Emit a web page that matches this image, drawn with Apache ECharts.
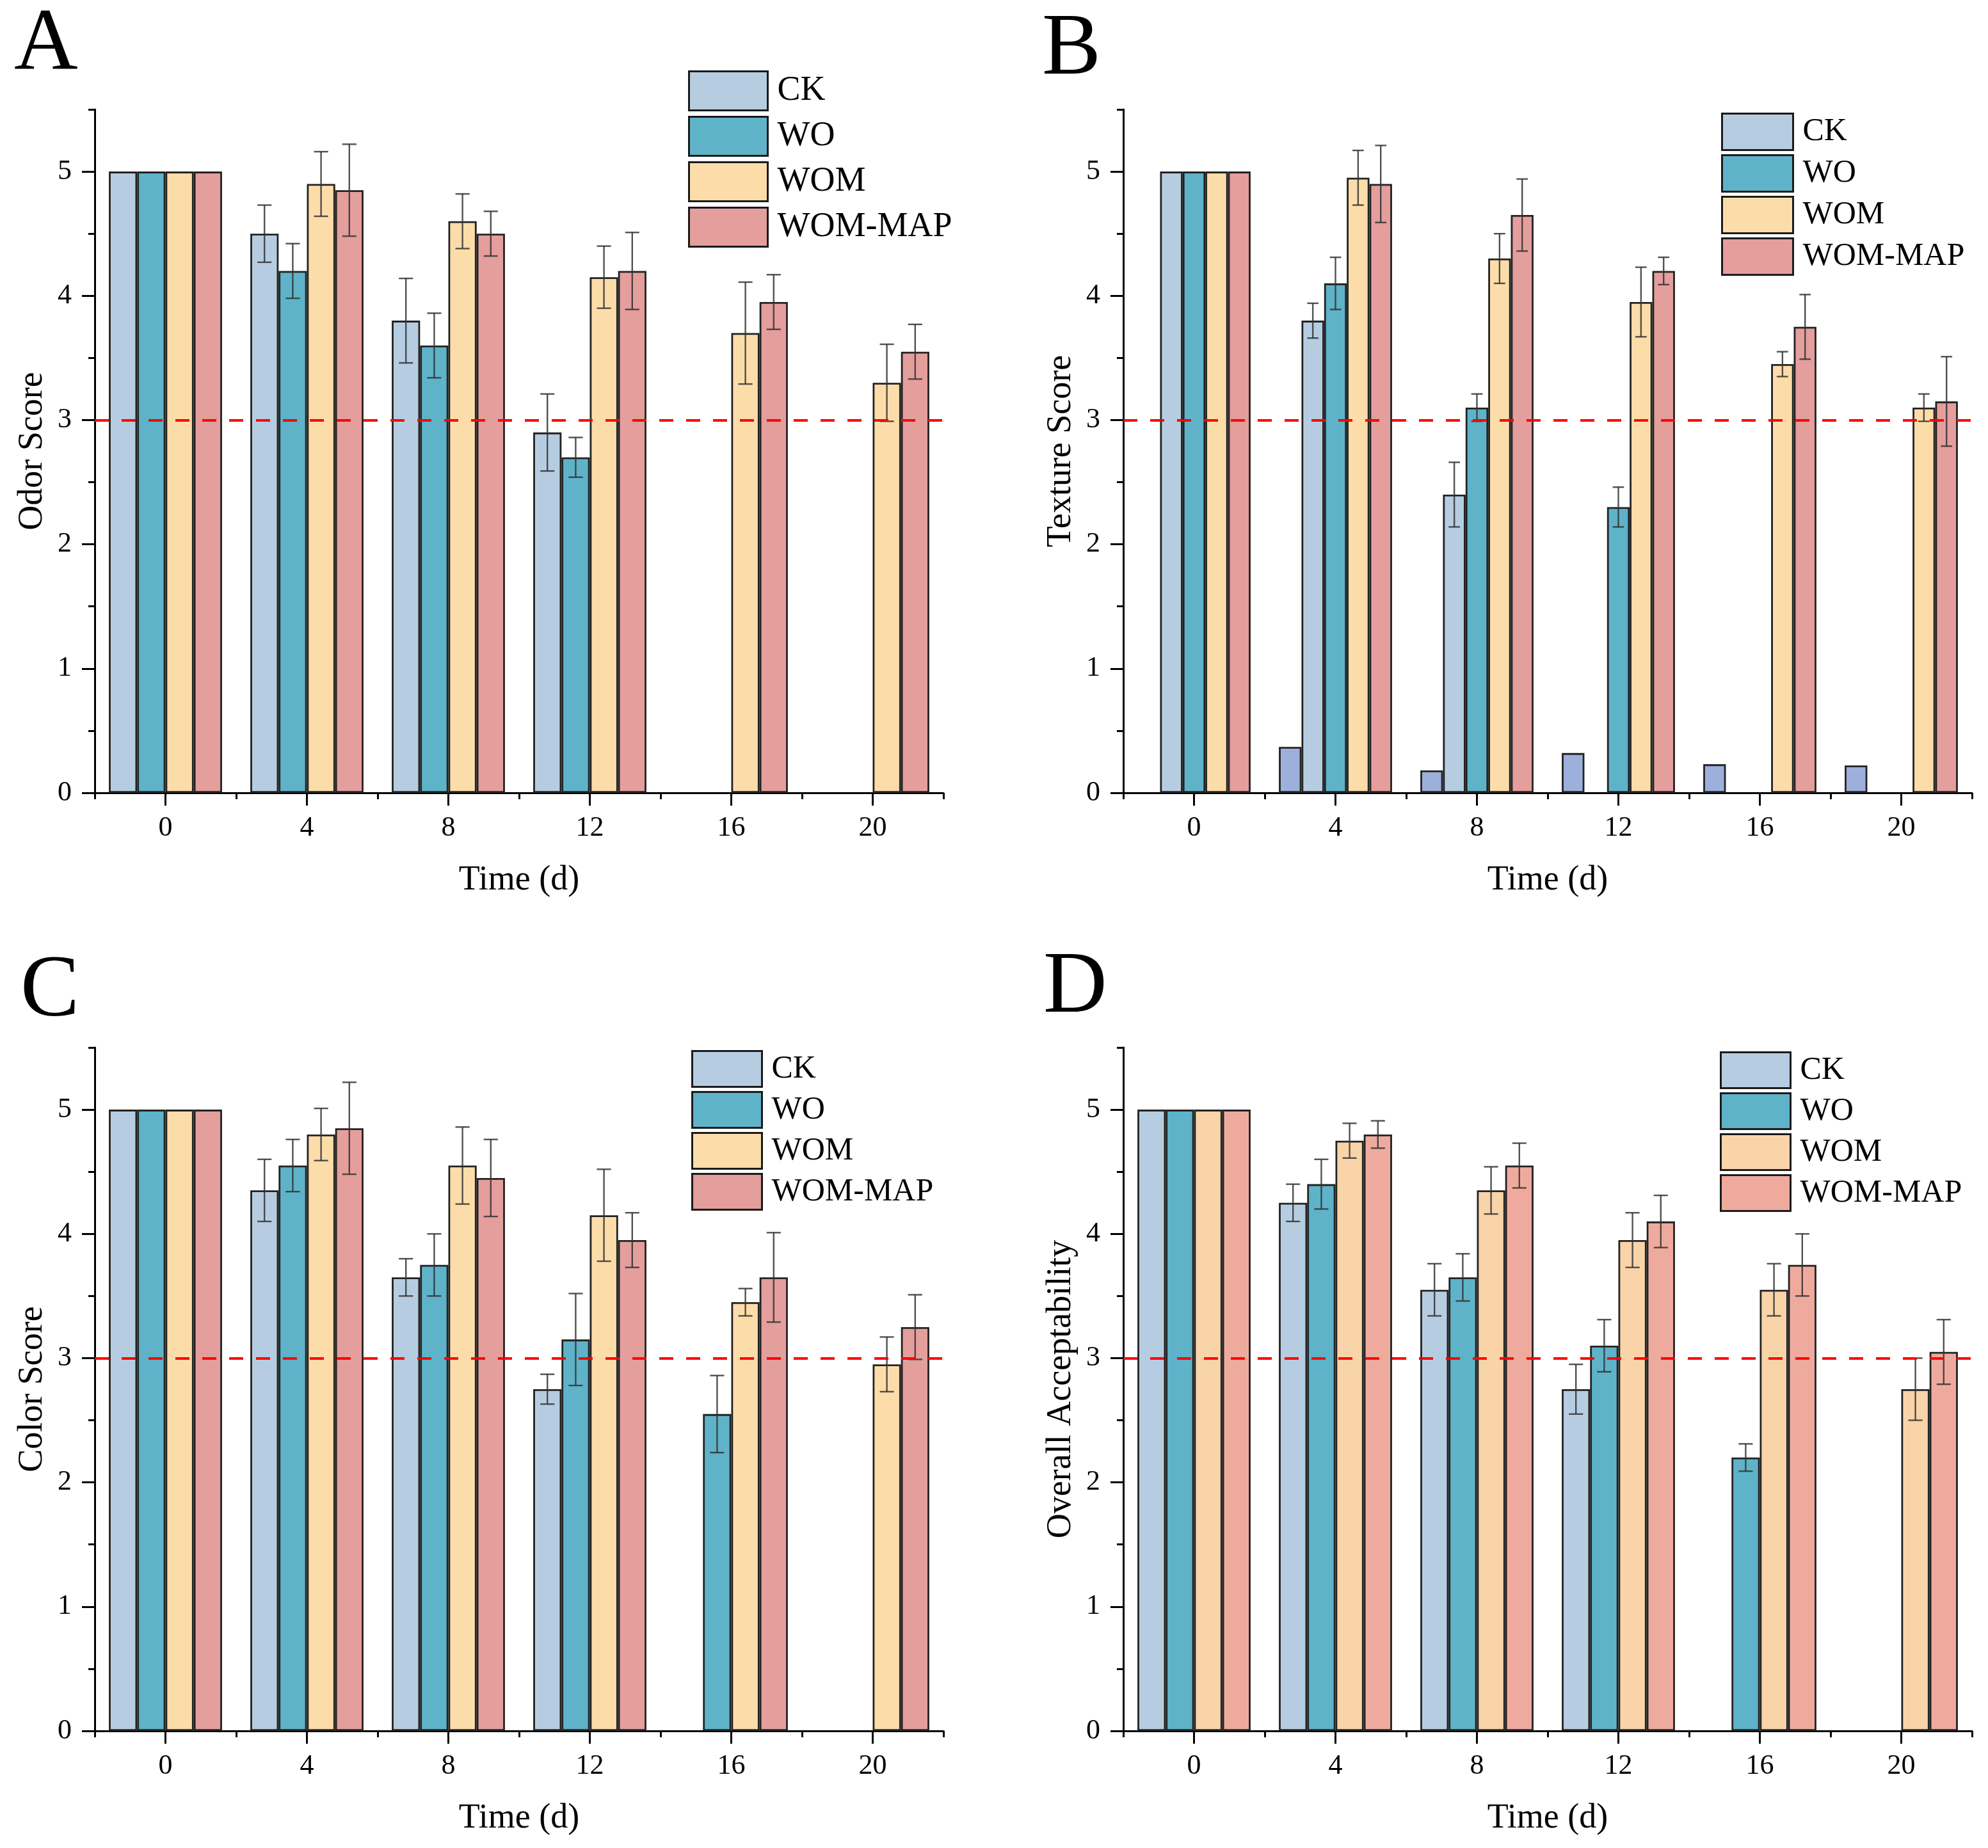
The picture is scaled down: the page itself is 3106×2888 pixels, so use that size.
<!DOCTYPE html>
<html>
<head>
<meta charset="utf-8">
<script src="https://cdn.jsdelivr.net/npm/echarts@6/dist/echarts.min.js"></script>
<style>
html,body{margin:0;padding:0;background:#ffffff;}
#chart{width:3106px;height:2888px;}
</style>
</head>
<body>
<div id="chart"></div>
<script>
// ---------------- DATA ----------------
const times = ['0', '4', '8', '12', '16', '20'];
const treatments = ['CK', 'WO', 'WOM', 'WOM-MAP'];
const yTicks = [0, 1, 2, 3, 4, 5];
const threshold = 3;

// A: Odor Score
const odorCK      = [5, 4.50, 3.80, 2.90, null, null];
const odorCKErr   = [0, 0.23, 0.34, 0.31, null, null];
const odorWO      = [5, 4.20, 3.60, 2.70, null, null];
const odorWOErr   = [0, 0.22, 0.26, 0.16, null, null];
const odorWOM     = [5, 4.90, 4.60, 4.15, 3.70, 3.30];
const odorWOMErr  = [0, 0.26, 0.22, 0.25, 0.41, 0.31];
const odorMAP     = [5, 4.85, 4.50, 4.20, 3.95, 3.55];
const odorMAPErr  = [0, 0.37, 0.18, 0.31, 0.22, 0.22];

// B: Texture Score (includes an extra unlabelled series)
const textureExtra  = [null, 0.37, 0.18, 0.32, 0.23, 0.22];
const textureCK     = [5, 3.80, 2.40, null, null, null];
const textureCKErr  = [0, 0.14, 0.26, null, null, null];
const textureWO     = [5, 4.10, 3.10, 2.30, null, null];
const textureWOErr  = [0, 0.21, 0.11, 0.16, null, null];
const textureWOM    = [5, 4.95, 4.30, 3.95, 3.45, 3.10];
const textureWOMErr = [0, 0.22, 0.20, 0.28, 0.10, 0.11];
const textureMAP    = [5, 4.90, 4.65, 4.20, 3.75, 3.15];
const textureMAPErr = [0, 0.31, 0.29, 0.11, 0.26, 0.36];

// C: Color Score
const colorCK     = [5, 4.35, 3.65, 2.75, null, null];
const colorCKErr  = [0, 0.25, 0.15, 0.12, null, null];
const colorWO     = [5, 4.55, 3.75, 3.15, 2.55, null];
const colorWOErr  = [0, 0.21, 0.25, 0.37, 0.31, null];
const colorWOM    = [5, 4.80, 4.55, 4.15, 3.45, 2.95];
const colorWOMErr = [0, 0.21, 0.31, 0.37, 0.11, 0.22];
const colorMAP    = [5, 4.85, 4.45, 3.95, 3.65, 3.25];
const colorMAPErr = [0, 0.37, 0.31, 0.22, 0.36, 0.26];

// D: Overall Acceptability
const overallCK     = [5, 4.25, 3.55, 2.75, null, null];
const overallCKErr  = [0, 0.15, 0.21, 0.20, null, null];
const overallWO     = [5, 4.40, 3.65, 3.10, 2.20, null];
const overallWOErr  = [0, 0.20, 0.19, 0.21, 0.11, null];
const overallWOM    = [5, 4.75, 4.35, 3.95, 3.55, 2.75];
const overallWOMErr = [0, 0.14, 0.19, 0.22, 0.21, 0.25];
const overallMAP    = [5, 4.80, 4.55, 4.10, 3.75, 3.05];
const overallMAPErr = [0, 0.11, 0.18, 0.21, 0.25, 0.26];

// ---------------- STYLE ----------------
const FONT = 'Liberation Serif';
const colorsABC = ['#B6CDE1', '#5EB3C9', '#FCDDAA', '#E49E9C'];
const colorsD   = ['#B6CDE1', '#5EB3C9', '#F9D4A9', '#EFAA9E'];
const extraColor = '#9DAFDB';

const panels = [
  { letter: 'A', letterPos: [22, 2], yName: 'Odor Score', grid: [148, 171],
    legend: { left: 1075, top: 110, w: 123, h: 61, gap: 7, fs: 54 },
    colors: colorsABC,
    series: [[odorCK, odorCKErr], [odorWO, odorWOErr], [odorWOM, odorWOMErr], [odorMAP, odorMAPErr]] },
  { letter: 'B', letterPos: [1628, 10], yName: 'Texture Score', grid: [1755, 171],
    legend: { left: 2689, top: 176, w: 111, h: 57, gap: 5, fs: 50 },
    colors: colorsABC, extra: textureExtra,
    series: [[textureCK, textureCKErr], [textureWO, textureWOErr], [textureWOM, textureWOMErr], [textureMAP, textureMAPErr]] },
  { letter: 'C', letterPos: [32, 1482], yName: 'Color Score', grid: [148, 1637],
    legend: { left: 1080, top: 1641, w: 109, h: 56, gap: 5, fs: 50 },
    colors: colorsABC,
    series: [[colorCK, colorCKErr], [colorWO, colorWOErr], [colorWOM, colorWOMErr], [colorMAP, colorMAPErr]] },
  { letter: 'D', letterPos: [1630, 1476], yName: 'Overall Acceptability', grid: [1755, 1637],
    legend: { left: 2687, top: 1643, w: 109, h: 56, gap: 5, fs: 50 },
    colors: colorsD,
    series: [[overallCK, overallCKErr], [overallWO, overallWOErr], [overallWOM, overallWOMErr], [overallMAP, overallMAPErr]] }
];

const GRID_W = 1326, GRID_H = 1068;
const axisLineStyle = { color: '#000', width: 3 };

function makeErrRender(k, n) {
  return function (params, api) {
    const ci = api.value(0), v = api.value(1), e = api.value(2);
    if (!isFinite(v) || !isFinite(e) || !e) return null;
    const band = api.size([1, 0])[0];
    const barW = band * 0.8 / n;
    const cx = api.coord([ci, v])[0] + (k - (n - 1) / 2) * barW;
    const yHi = api.coord([ci, v + e])[1];
    const yLo = api.coord([ci, v - e])[1];
    const half = barW * 0.25;
    const st = { stroke: 'rgba(50,50,50,0.85)', lineWidth: 2.4 };
    return {
      type: 'group',
      children: [
        { type: 'line', shape: { x1: cx, y1: yHi, x2: cx, y2: yLo }, style: st },
        { type: 'line', shape: { x1: cx - half, y1: yHi, x2: cx + half, y2: yHi }, style: st },
        { type: 'line', shape: { x1: cx - half, y1: yLo, x2: cx + half, y2: yLo }, style: st }
      ]
    };
  };
}

const option = {
  animation: false,
  backgroundColor: '#ffffff',
  textStyle: { fontFamily: FONT },
  grid: [], xAxis: [], yAxis: [], series: [], legend: [], graphic: []
};

panels.forEach((p, gi) => {
  option.grid.push({ left: p.grid[0], top: p.grid[1], width: GRID_W, height: GRID_H, containLabel: false });
  const xi = option.xAxis.length;
  option.xAxis.push({
    type: 'category', gridIndex: gi, data: times, boundaryGap: true, position: 'bottom',
    axisLine: { show: true, onZero: false, lineStyle: axisLineStyle },
    axisTick: { show: true, alignWithLabel: true, interval: 0, length: 20, inside: false, lineStyle: axisLineStyle },
    axisLabel: { show: true, interval: 0, fontSize: 44, fontFamily: FONT, color: '#000', margin: 33 },
    splitLine: { show: false },
    name: 'Time (d)', nameLocation: 'middle', nameGap: 110,
    nameTextStyle: { fontSize: 54, fontFamily: FONT, color: '#000' }
  });
  option.xAxis.push({
    type: 'category', gridIndex: gi, data: times, boundaryGap: true, position: 'bottom',
    axisLine: { show: false, onZero: false },
    axisTick: { show: true, alignWithLabel: false, interval: 0, length: 10, lineStyle: axisLineStyle },
    axisLabel: { show: false }, splitLine: { show: false }
  });
  const yi = option.yAxis.length;
  option.yAxis.push({
    type: 'value', gridIndex: gi, min: 0, max: 5.5, interval: 0.5, position: 'left',
    axisLine: { show: true, lineStyle: axisLineStyle },
    axisTick: { show: true, length: 20, customValues: yTicks, lineStyle: axisLineStyle },
    axisLabel: { show: true, customValues: yTicks, fontSize: 44, fontFamily: FONT, color: '#000', margin: 36,
      formatter: (v) => (Number.isInteger(v) ? String(v) : '') },
    splitLine: { show: false },
    name: p.yName, nameLocation: 'middle', nameGap: 70, nameRotate: 90,
    nameTextStyle: { fontSize: 54, fontFamily: FONT, color: '#000' }
  });
  option.yAxis.push({
    type: 'value', gridIndex: gi, min: 0, max: 5.5, interval: 0.5, position: 'left',
    axisLine: { show: false },
    axisTick: { show: true, length: 10, lineStyle: axisLineStyle },
    axisLabel: { show: false }, splitLine: { show: false }
  });

  const groups = [];
  if (p.extra) groups.push({ name: 'blank', vals: p.extra, errs: null, color: extraColor });
  p.series.forEach((s, si) => groups.push({ name: treatments[si], vals: s[0], errs: s[1], color: p.colors[si] }));
  const n = groups.length;

  groups.forEach((g, k) => {
    const bar = {
      type: 'bar', name: g.name, xAxisIndex: xi, yAxisIndex: yi,
      data: g.vals, barGap: '0%', barCategoryGap: '20%', z: 2,
      itemStyle: { color: g.color, borderColor: '#222', borderWidth: 2.8 },
      emphasis: { disabled: true }
    };
    if (k === n - 1) {
      bar.markLine = {
        silent: true, symbol: ['none', 'none'], label: { show: false }, z: 10,
        lineStyle: { color: '#FF0000', type: [22, 20], width: 4, opacity: 1 },
        data: [{ yAxis: threshold }]
      };
    }
    option.series.push(bar);
    if (g.errs) {
      option.series.push({
        type: 'custom', name: g.name + ' err', xAxisIndex: xi, yAxisIndex: yi, z: 6, silent: true,
        data: times.map((t, i) => [i, g.vals[i], g.errs[i]]),
        encode: { x: 0, y: 1 },
        renderItem: makeErrRender(k, n)
      });
    }
  });

  option.legend.push({
    orient: 'vertical', left: p.legend.left, top: p.legend.top,
    itemWidth: p.legend.w, itemHeight: p.legend.h, itemGap: p.legend.gap,
    icon: 'rect', selectedMode: false, padding: 0,
    data: treatments.map((t, i) => ({ name: t, itemStyle: { color: p.colors[i], borderColor: '#1a1a1a', borderWidth: 3 } })),
    textStyle: { fontSize: p.legend.fs, fontFamily: FONT, color: '#000', padding: [0, 0, 0, 10] }
  });

  option.graphic.push({
    type: 'text', left: p.letterPos[0], top: p.letterPos[1],
    style: { text: p.letter, font: '138px "Liberation Serif"', fill: '#000' }
  });
});

const chart = echarts.init(document.getElementById('chart'), null, { renderer: 'canvas' });
chart.setOption(option);
</script>
</body>
</html>
